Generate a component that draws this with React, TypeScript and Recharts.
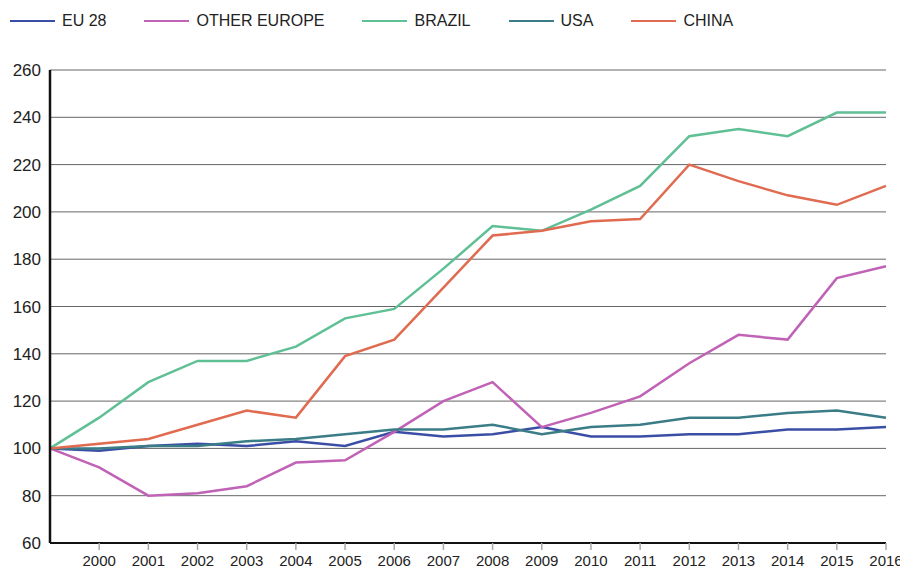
import { LineChart, Line, XAxis, YAxis, CartesianGrid } from 'recharts';

const YEARS = ['1999', '2000', '2001', '2002', '2003', '2004', '2005', '2006', '2007', '2008', '2009', '2010', '2011', '2012', '2013', '2014', '2015', '2016'];
const EU28 = [100, 99, 101, 102, 101, 103, 101, 107, 105, 106, 109, 105, 105, 106, 106, 108, 108, 109];
const OTHER_EUROPE = [100, 92, 80, 81, 84, 94, 95, 107, 120, 128, 109, 115, 122, 136, 148, 146, 172, 177];
const BRAZIL = [100, 113, 128, 137, 137, 143, 155, 159, 176, 194, 192, 201, 211, 232, 235, 232, 242, 242];
const USA = [100, 100, 101, 101, 103, 104, 106, 108, 108, 110, 106, 109, 110, 113, 113, 115, 116, 113];
const CHINA = [100, 102, 104, 110, 116, 113, 139, 146, 168, 190, 192, 196, 197, 220, 213, 207, 203, 211];
const Y_TICKS = [60, 80, 100, 120, 140, 160, 180, 200, 220, 240, 260];

const SERIES = [
  { key: 'eu28', name: 'EU 28', color: '#3b4ea6', values: EU28 },
  { key: 'otherEurope', name: 'OTHER EUROPE', color: '#c062b6', values: OTHER_EUROPE },
  { key: 'brazil', name: 'BRAZIL', color: '#5fbf95', values: BRAZIL },
  { key: 'usa', name: 'USA', color: '#3a7d86', values: USA },
  { key: 'china', name: 'CHINA', color: '#e06b50', values: CHINA },
];

const data = YEARS.map((year, i) => {
  const row: Record<string, string | number> = { year };
  SERIES.forEach((s) => {
    row[s.key] = s.values[i];
  });
  return row;
});

const font = '"Liberation Sans", Arial, sans-serif';

function TopLegend() {
  return (
    <div
      style={{
        position: 'absolute',
        left: 10,
        top: 12,
        display: 'flex',
        alignItems: 'center',
        fontFamily: font,
        fontSize: 16,
        color: '#222',
        whiteSpace: 'nowrap',
      }}
    >
      {SERIES.map((s) => (
        <div key={s.key} style={{ display: 'flex', alignItems: 'center', marginRight: 38 }}>
          <span style={{ display: 'inline-block', width: 45, height: 2.5, background: s.color, marginRight: 7 }} />
          <span>{s.name}</span>
        </div>
      ))}
    </div>
  );
}

export default function App() {
  return (
    <div style={{ position: 'absolute', left: 0, top: 0, width: 900, height: 574, background: '#fff' }}>
      <TopLegend />
      <LineChart width={900} height={574} data={data} margin={{ top: 70, right: 14, left: 0, bottom: 0 }}>
        <CartesianGrid vertical={false} stroke="#666" strokeWidth={1} />
        <XAxis
          dataKey="year"
          ticks={YEARS.slice(1)}
          interval={0}
          height={31}
          axisLine={{ stroke: '#111', strokeWidth: 2 }}
          tickLine={{ stroke: '#aaa', strokeWidth: 1.5 }}
          tickSize={7}
          tickMargin={5}
          tick={{ fontSize: 15, fontFamily: font, fill: '#222' }}
        />
        <YAxis
          domain={[60, 260]}
          ticks={Y_TICKS}
          interval={0}
          width={50}
          axisLine={{ stroke: '#111', strokeWidth: 2.5 }}
          tickLine={false}
          tickMargin={3}
          tick={{ fontSize: 17, fontFamily: font, fill: '#222' }}
        />
        {SERIES.map((s) => (
          <Line
            key={s.key}
            type="linear"
            dataKey={s.key}
            name={s.name}
            stroke={s.color}
            strokeWidth={2.5}
            dot={false}
            isAnimationActive={false}
          />
        ))}
      </LineChart>
    </div>
  );
}
